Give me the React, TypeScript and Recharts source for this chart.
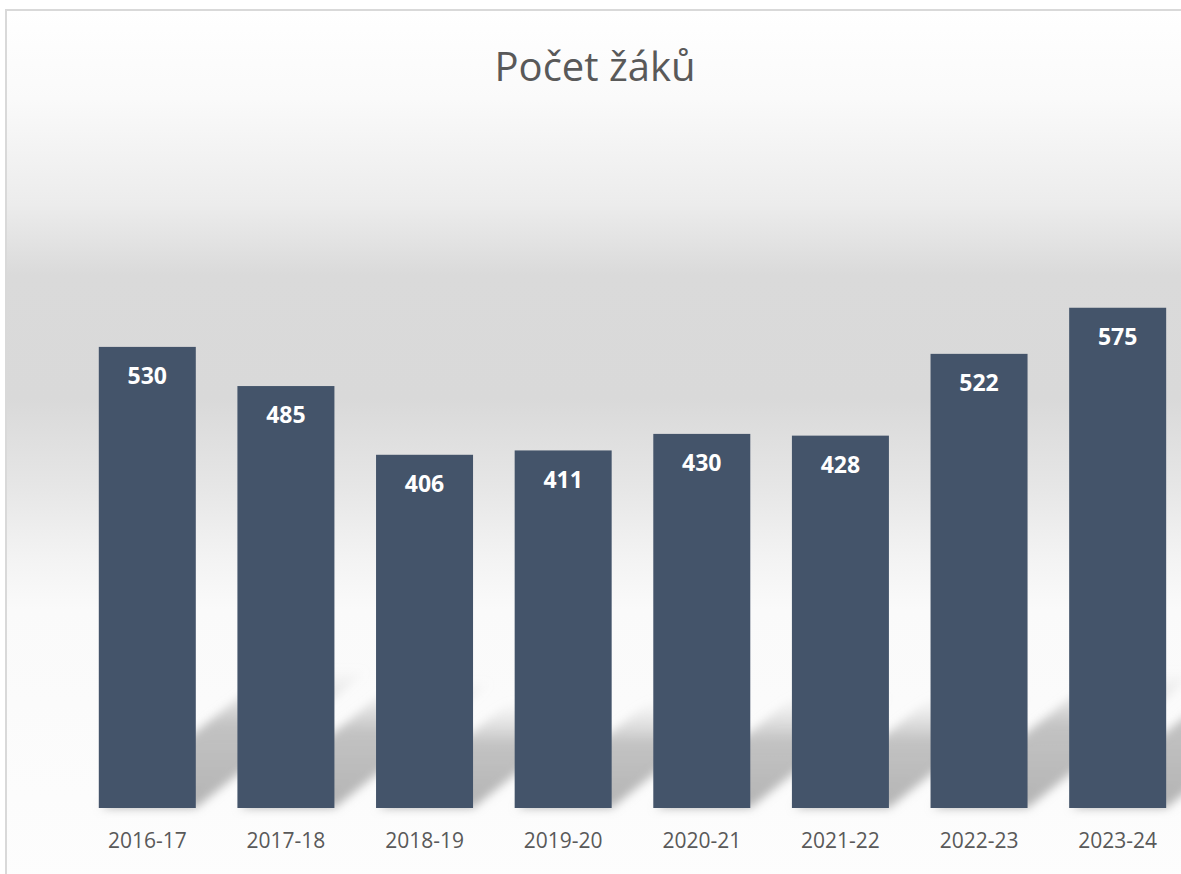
import { BarChart, Bar, XAxis, YAxis, LabelList } from "recharts";

const years = [
  "2016-17",
  "2017-18",
  "2018-19",
  "2019-20",
  "2020-21",
  "2021-22",
  "2022-23",
  "2023-24",
];
const pupils = [530, 485, 406, 411, 430, 428, 522, 575];

const chartData = years.map((year, i) => ({ year, pupils: pupils[i] }));

const font = "'Open Sans', 'Noto Sans', sans-serif";

// bar with a soft diagonal "floor" shadow behind it
const ShadowBar = (props: any) => {
  const { x, y, width, height, fill } = props;
  if (!height) return null;
  const bottom = y + height;
  const dy = height * 0.3;
  const dx = dy * 1.25;
  const pts = [
    `${x + 2},${bottom}`,
    `${x + width},${bottom}`,
    `${x + width + dx},${bottom - dy}`,
    `${x + dx + 2},${bottom - dy}`,
  ].join(" ");
  return (
    <g>
      <polygon points={pts} fill="url(#shadowFill)" filter="url(#shadowBlur)" />
      <rect x={x} y={y} width={width} height={height} fill={fill} />
    </g>
  );
};

export default function App() {
  return (
    <div
      style={{
        position: "absolute",
        left: 5,
        top: 9,
        width: 1200,
        height: 884,
        boxSizing: "border-box",
        border: "2px solid #d9d9d9",
        background:
          "linear-gradient(to bottom, #ffffff 0%, #fafafa 10%, #ececec 22%, #dadada 30%, #d9d9d9 44%, #e6e6e6 54%, #f3f3f3 62%, #fafafa 68%, #fdfdfd 100%)",
        fontFamily: font,
      }}
    >
      <div
        style={{
          position: "absolute",
          left: 388,
          top: 31,
          width: 400,
          textAlign: "center",
          fontSize: 40,
          lineHeight: "48px",
          color: "#595959",
        }}
      >
        Počet žáků
      </div>
      <BarChart
        width={1196}
        height={880}
        data={chartData}
        margin={{ top: 188, right: 16, bottom: 53, left: 71 }}
        barCategoryGap="15%"
      >
        <defs>
          <linearGradient id="shadowFill" x1="0" y1="1" x2="0" y2="0">
            <stop offset="0%" stopColor="#b0b0b0" stopOpacity={0.95} />
            <stop offset="60%" stopColor="#b8b8b8" stopOpacity={0.85} />
            <stop offset="100%" stopColor="#cccccc" stopOpacity={0} />
          </linearGradient>
          <filter id="shadowBlur" x="-20%" y="-20%" width="140%" height="140%">
            <feGaussianBlur stdDeviation="5" />
          </filter>
        </defs>
        <XAxis
          dataKey="year"
          axisLine={false}
          tickLine={false}
          tickSize={0}
          tickMargin={25}
          tick={{ fill: "#595959", fontSize: 21, fontFamily: font }}
          interval={0}
        />
        <YAxis hide domain={[0, 700]} />
        <Bar
          dataKey="pupils"
          fill="#44546A"
          shape={<ShadowBar />}
          isAnimationActive={false}
        >
          <LabelList
            dataKey="pupils"
            position="insideTop"
            offset={21}
            fill="#ffffff"
            style={{ fontSize: 23, fontWeight: 700, fontFamily: font }}
          />
        </Bar>
      </BarChart>
    </div>
  );
}
